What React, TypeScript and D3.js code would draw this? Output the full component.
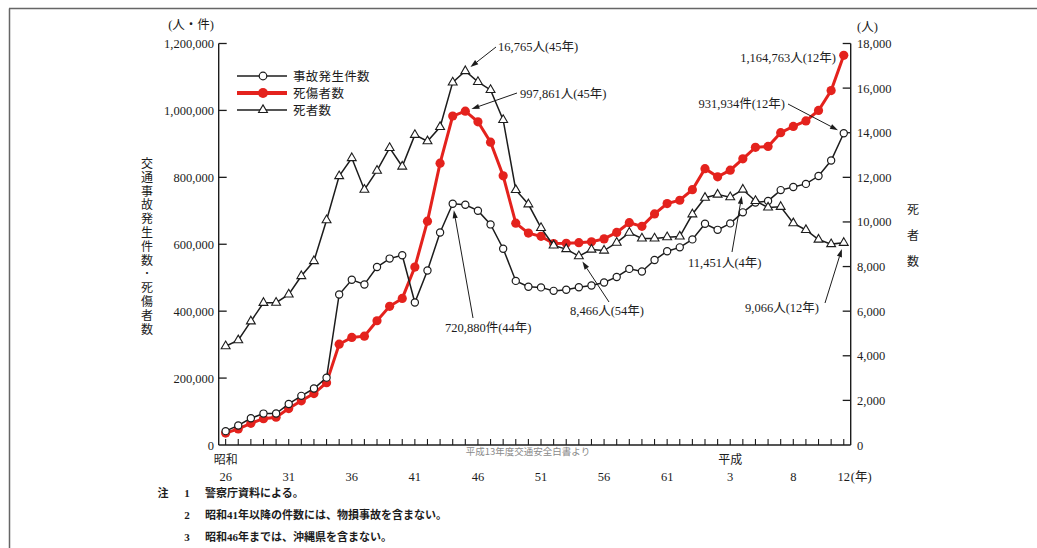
import React from 'react';
import * as d3 from 'd3';

// 昭和26年(1951) 〜 平成12年(2000)
const accidents = [41423, 58487, 80019, 93869, 93981, 122691, 146833, 168799, 201292, 449917, 493693, 479825, 531966, 557183, 567286, 425944, 521481, 635056, 720880, 718080, 700290, 659283, 586713, 490452, 472938, 471041, 460649, 464037, 471573, 476677, 485578, 502261, 526362, 518642, 552788, 579190, 590723, 614481, 661363, 643097, 662388, 695346, 724675, 729457, 761794, 771085, 780401, 803878, 850363, 931934];
const casualties = [35703, 48017, 64824, 78764, 82880, 108823, 132105, 153680, 186030, 301211, 321562, 325258, 371390, 414435, 438150, 531679, 668995, 842327, 983257, 997861, 965967, 905116, 804522, 662852, 633259, 623691, 602156, 602899, 604748, 607479, 616065, 635265, 664342, 653583, 690607, 721647, 731526, 763189, 825918, 801522, 821354, 855454, 889575, 892372, 933356, 952146, 968565, 999887, 1059403, 1164763];
const deaths = [4429, 4696, 5544, 6374, 6379, 6751, 7575, 8248, 10079, 12055, 12865, 11445, 12301, 13318, 12484, 13904, 13618, 14256, 16257, 16765, 16278, 15918, 14574, 11432, 10792, 9734, 8945, 8783, 8466, 8760, 8719, 9073, 9520, 9262, 9261, 9317, 9347, 10344, 11086, 11227, 11109, 11451, 10942, 10649, 10679, 9942, 9640, 9211, 9006, 9066];

const xTickIdx = [0, 5, 10, 15, 20, 25, 30, 35, 40, 45, 49];
const xTickLabels = ['26', '31', '36', '41', '46', '51', '56', '61', '3', '8', '12'];
const leftTicks = [0, 200000, 400000, 600000, 800000, 1000000, 1200000];
const rightTicks = [0, 2000, 4000, 6000, 8000, 10000, 12000, 14000, 16000, 18000];
const legendLabels = ['事故発生件数', '死傷者数', '死者数'];
const leftTitle = '交通事故発生件数･死傷者数';
const rightTitle = '死者数';
const notes = ['警察庁資料による。', '昭和41年以降の件数には、物損事故を含まない。', '昭和46年までは、沖縄県を含まない。'];

type Ann = { label: string; series: 'a' | 'c' | 'd'; idx: number; tx: number; ty: number; anchor?: string; sx?: number; sy?: number };
const annotations: Ann[] = [
  { label: '16,765人(45年)', series: 'd', idx: 19, tx: 498, ty: 46, sx: 496, sy: 47 },
  { label: '997,861人(45年)', series: 'c', idx: 19, tx: 520, ty: 93, sx: 517, sy: 93 },
  { label: '1,164,763人(12年)', series: 'c', idx: 49, tx: 836, ty: 57, anchor: 'end' },
  { label: '931,934件(12年)', series: 'a', idx: 49, tx: 785, ty: 103, anchor: 'end', sx: 788, sy: 104 },
  { label: '720,880件(44年)', series: 'a', idx: 18, tx: 445, ty: 327, sx: 473, sy: 318 },
  { label: '8,466人(54年)', series: 'd', idx: 28, tx: 570, ty: 310, sx: 609, sy: 302 },
  { label: '11,451人(4年)', series: 'd', idx: 41, tx: 688, ty: 262, sx: 732, sy: 252 },
  { label: '9,066人(12年)', series: 'd', idx: 49, tx: 745, ty: 307, sx: 825, sy: 303 },
];

const W = 1037, H = 548;
const FONT = "'Liberation Serif', 'Noto Sans CJK JP', serif";
const RED = '#e4221d';
const INK = '#1c1c1c';

const x = d3.scaleLinear().domain([-0.55, 49.55]).range([218.7, 850.7]);
const yL = d3.scaleLinear().domain([0, 1200000]).range([445, 43.5]);
const yR = d3.scaleLinear().domain([0, 18000]).range([445, 43.5]);

const triPath = d3.symbol().type(d3.symbolTriangle).size(34)() as string;

function point(s: 'a' | 'c' | 'd', i: number): [number, number] {
  if (s === 'a') return [x(i), yL(accidents[i])];
  if (s === 'c') return [x(i), yL(casualties[i])];
  return [x(i), yR(deaths[i])];
}

export default function App() {
  const lineL = d3.line<number>().x((_, i) => x(i)).y((d) => yL(d));
  const lineR = d3.line<number>().x((_, i) => x(i)).y((d) => yR(d));
  const bottom = yL(0);
  const years = d3.range(accidents.length);

  return (
    <svg width={W} height={H} style={{ position: 'absolute', left: 0, top: 0, background: '#fff' }} fontFamily={FONT}>
      <rect x={0} y={0} width={W} height={H} fill="#fff" />
      {/* frame */}
      <line x1={9} y1={8.5} x2={W} y2={8.5} stroke="#666" strokeWidth={1.5} />
      <line x1={9.5} y1={8.5} x2={9.5} y2={H} stroke="#666" strokeWidth={1.5} />

      {/* axes */}
      <line x1={x.range()[0]} y1={yL.range()[1]} x2={x.range()[0]} y2={bottom} stroke={INK} strokeWidth={1.4} />
      <line x1={x.range()[1]} y1={yR.range()[1]} x2={x.range()[1]} y2={bottom} stroke={INK} strokeWidth={1.4} />
      <line x1={x.range()[0]} y1={bottom} x2={x.range()[1]} y2={bottom} stroke={INK} strokeWidth={1.4} />
      {leftTicks.map((t) => (
        <g key={'l' + t}>
          {t > 0 && <line x1={x.range()[0]} x2={x.range()[0] + 8} y1={yL(t)} y2={yL(t)} stroke={INK} strokeWidth={1.3} />}
          <text x={214} y={yL(t) + 4.5} textAnchor="end" fontSize={12.5} fill={INK}>{d3.format(',')(t)}</text>
        </g>
      ))}
      {rightTicks.map((t) => (
        <g key={'r' + t}>
          {t > 0 && <line x1={x.range()[1] - 8} x2={x.range()[1]} y1={yR(t)} y2={yR(t)} stroke={INK} strokeWidth={1.3} />}
          <text x={857} y={yR(t) + 4.5} textAnchor="start" fontSize={12.5} fill={INK}>{d3.format(',')(t)}</text>
        </g>
      ))}
      {years.map((i) => (
        <line key={'yt' + i} x1={x(i)} x2={x(i)} y1={bottom} y2={bottom - 6} stroke={INK} strokeWidth={1.1} />
      ))}
      {xTickIdx.map((i, k) => (
        <text key={'xl' + i} x={x(i)} y={481} textAnchor="middle" fontSize={12.5} fill={INK}>{xTickLabels[k]}</text>
      ))}
      <text x={x(49) + 7} y={481} textAnchor="start" fontSize={12.5} fill={INK}>(年)</text>
      <text x={x(0)} y={464} textAnchor="middle" fontSize={12} fill={INK}>昭和</text>
      <text x={x(40)} y={464} textAnchor="middle" fontSize={12} fill={INK}>平成</text>

      {/* units */}
      <text x={214} y={29} textAnchor="end" fontSize={12.5} fill={INK}>(人・件)</text>
      <text x={857} y={31} textAnchor="start" fontSize={12.5} fill={INK}>(人)</text>
      {Array.from(leftTitle).map((ch, i) => (
        <text key={'lt' + i} x={147} y={168 + i * 13.8} textAnchor="middle" fontSize={12} fill={INK}>{ch}</text>
      ))}
      {Array.from(rightTitle).map((ch, i) => (
        <text key={'rt' + i} x={913} y={214 + i * 26} textAnchor="middle" fontSize={12} fill={INK}>{ch}</text>
      ))}

      {/* watermark */}
      <text x={528} y={455} textAnchor="middle" fontSize={9.5} fill="#8a8a8a" fontFamily="'Noto Sans CJK JP', sans-serif">平成13年度交通安全白書より</text>

      {/* series: casualties (red) */}
      <path d={lineL(casualties) as string} fill="none" stroke={RED} strokeWidth={3} />
      {casualties.map((v, i) => (
        <circle key={'c' + i} cx={x(i)} cy={yL(v)} r={4.6} fill={RED} />
      ))}
      {/* accidents */}
      <path d={lineL(accidents) as string} fill="none" stroke={INK} strokeWidth={1.5} />
      {accidents.map((v, i) => (
        <circle key={'a' + i} cx={x(i)} cy={yL(v)} r={3.6} fill="#fff" stroke={INK} strokeWidth={1.2} />
      ))}
      {/* deaths */}
      <path d={lineR(deaths) as string} fill="none" stroke={INK} strokeWidth={1.5} />
      {deaths.map((v, i) => (
        <path key={'d' + i} d={triPath} transform={`translate(${x(i)},${yR(v)})`} fill="#fff" stroke={INK} strokeWidth={1.1} />
      ))}

      {/* annotations */}
      {annotations.map((a, k) => {
        const [px, py] = point(a.series, a.idx);
        let arrow = null;
        if (a.sx !== undefined && a.sy !== undefined) {
          const dx = px - a.sx, dy = py - a.sy;
          const len = Math.hypot(dx, dy);
          const ux = dx / len, uy = dy / len;
          const gap = 6.5;
          const tx = px - ux * gap, ty = py - uy * gap;
          const hl = 8, hw = 2.6;
          const bx = tx - ux * hl, by = ty - uy * hl;
          const head = `M${tx},${ty}L${bx - uy * hw},${by + ux * hw}L${bx + uy * hw},${by - ux * hw}Z`;
          arrow = (
            <g>
              <line x1={a.sx} y1={a.sy} x2={bx} y2={by} stroke={INK} strokeWidth={1} />
              <path d={head} fill={INK} />
            </g>
          );
        }
        return (
          <g key={'an' + k}>
            {arrow}
            <text x={a.tx} y={a.ty + 4.5} textAnchor={a.anchor || 'start'} fontSize={12.5} fill={INK}>{a.label}</text>
          </g>
        );
      })}

      {/* legend */}
      {legendLabels.map((lab, i) => {
        const ly = 76 + i * 17;
        return (
          <g key={'lg' + i}>
            {i === 1 ? (
              <g>
                <line x1={237} x2={287} y1={ly} y2={ly} stroke={RED} strokeWidth={4} />
                <circle cx={263} cy={ly} r={5} fill={RED} />
              </g>
            ) : (
              <g>
                <line x1={237} x2={287} y1={ly} y2={ly} stroke={INK} strokeWidth={1.6} />
                {i === 0 ? (
                  <circle cx={263} cy={ly} r={3.8} fill="#fff" stroke={INK} strokeWidth={1.2} />
                ) : (
                  <path d={triPath} transform={`translate(263,${ly})`} fill="#fff" stroke={INK} strokeWidth={1.1} />
                )}
              </g>
            )}
            <text x={293} y={ly + 4.5} fontSize={12.5} fill={INK} letterSpacing={0.3}>{lab}</text>
          </g>
        );
      })}

      {/* notes */}
      <text x={163} y={497} textAnchor="middle" fontSize={11} fontWeight="bold" fill={INK}>注</text>
      {notes.map((n, i) => (
        <g key={'n' + i}>
          <text x={187} y={497 + i * 22} textAnchor="middle" fontSize={11} fontWeight="bold" fill={INK}>{String(i + 1)}</text>
          <text x={205} y={497 + i * 22} textAnchor="start" fontSize={11} fontWeight="bold" fill={INK}>{n}</text>
        </g>
      ))}
    </svg>
  );
}
